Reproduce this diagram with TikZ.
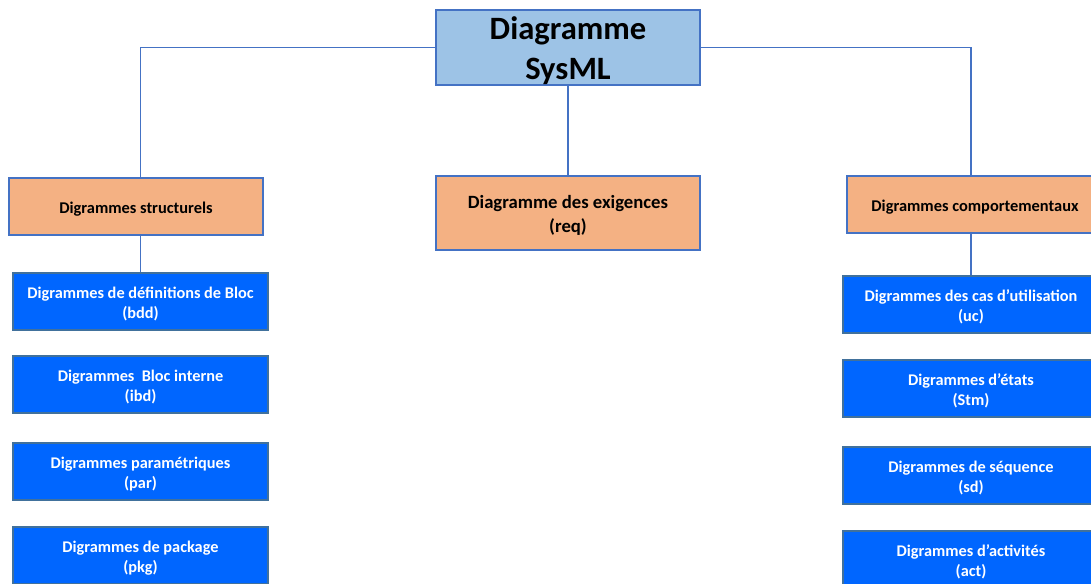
\documentclass[tikz,border=0pt]{standalone}
\usepackage{fontspec}
\setmainfont{Carlito}
\definecolor{rootfill}{HTML}{9DC3E6}
\definecolor{edgeblue}{HTML}{4472C4}
\definecolor{catfill}{HTML}{F4B183}
\definecolor{leaffill}{HTML}{0066FF}
\definecolor{leafedge}{HTML}{41719C}
\tikzset{
  box/.style={draw=edgeblue, line width=1.2pt, inner sep=0pt},
  % the caption sits a little below the box centre
  caption/.style={inner sep=0pt, align=center, yshift=-2.5pt},
  rootbox/.style={box, fill=rootfill, minimum width=264pt, minimum height=75pt,
    label={[caption, yshift=-0.5pt, font=\bfseries\fontsize{32.6}{40}\selectfont]center:#1}},
  catbox/.style={box, fill=catfill, minimum height=57pt,
    label={[caption, font=\bfseries\fontsize{16.4}{20}\selectfont]center:#1}},
  reqbox/.style={box, fill=catfill, minimum width=264pt, minimum height=74pt,
    label={[caption, font=\bfseries\fontsize{18.7}{23.5}\selectfont]center:#1}},
  leafbox/.style={box, draw=leafedge, fill=leaffill, minimum width=255pt, minimum height=57pt,
    label={[caption, text=white, font=\bfseries\fontsize{16.3}{20}\selectfont]center:#1}},
  link/.style={draw=edgeblue, line width=1.2pt}
}
\begin{document}
\begin{tikzpicture}[x=1pt, y=-1pt]
\useasboundingbox (0,0) rectangle (1091,583);
\clip (0,0) rectangle (1091,583);

% top of the tree
\node[rootbox={Diagramme\\SysML}] (root) at (568,47.5) {};

% three categories
\node[catbox={Digrammes structurels}, minimum width=254pt] (struct) at (136,206.5) {};
\node[reqbox={Diagramme des exigences\\(req)}] (req) at (568,213) {};
\node[catbox={Digrammes comportementaux}, minimum width=256pt] (behav) at (975,204.5) {};

% structural diagrams
\node[leafbox={Digrammes de définitions de Bloc\\(bdd)}] (bdd) at (140.5,301.5) {};
\node[leafbox={Digrammes\ \ Bloc interne\\(ibd)}] (ibd) at (140.5,384.5) {};
\node[leafbox={Digrammes paramétriques\\(par)}] (par) at (140.5,471.5) {};
\node[leafbox={Digrammes de package\\(pkg)}] (pkg) at (140.5,555.5) {};

% behavioural diagrams
\node[leafbox={Digrammes des cas d’utilisation\\(uc)}, minimum width=256pt] (uc) at (971,304.5) {};
\node[leafbox={Digrammes d{\char"0027}états\\(Stm)}, minimum width=256pt] (stm) at (971,388.5) {};
\node[leafbox={Digrammes de séquence\\(sd)}, minimum width=256pt] (sd) at (971,475.5) {};
\node[leafbox={Digrammes d’activités\\(act)}, minimum width=256pt] (act) at (971,559.5) {};

% connectors
\draw[link] (root.west) -| (bdd.north |- struct.north);
\draw[link] (root.east) -| (uc.north |- behav.north);
\draw[link] (root.south) -- (req.north);
\draw[link] (bdd.north |- struct.south) -- (bdd.north);
\draw[link] (uc.north |- behav.south) -- (uc.north);
\end{tikzpicture}
\end{document}
